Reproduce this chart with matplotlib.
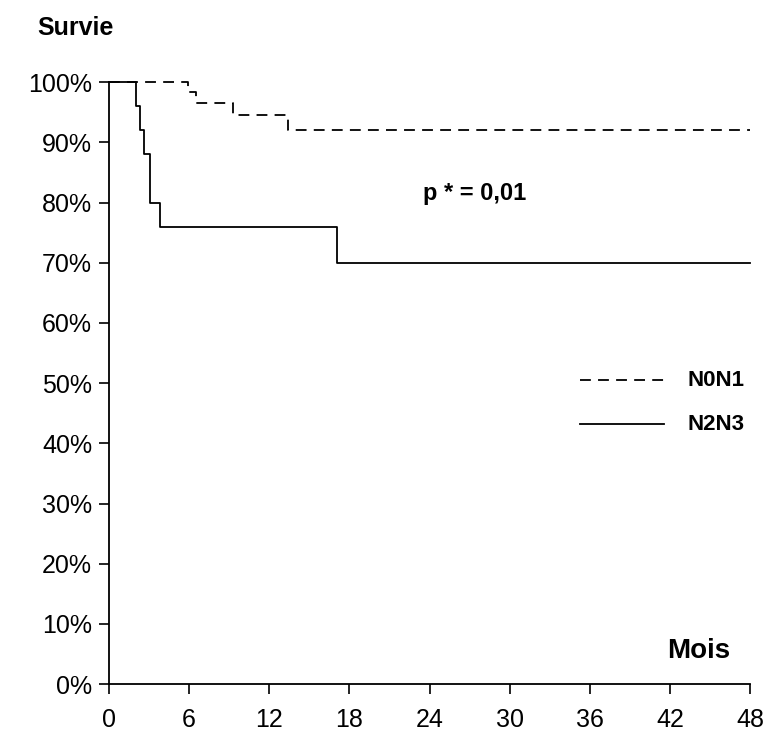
import matplotlib as mpl
import matplotlib.pyplot as plt
from matplotlib.ticker import FuncFormatter

mpl.use('Agg')
plt.rcParams['font.family'] = ['Liberation Sans', 'DejaVu Sans']

# Kaplan-Meier steps (months, survival)
n0n1_t = [0, 5.9, 6.5, 9.3, 13.4, 48]
n0n1_s = [1.0, 0.983, 0.966, 0.945, 0.92, 0.92]
n2n3_t = [0, 2.0, 2.3, 2.6, 3.1, 3.8, 17.1, 48]
n2n3_s = [1.0, 0.96, 0.92, 0.88, 0.80, 0.76, 0.70, 0.70]

xticks = [0, 6, 12, 18, 24, 30, 36, 42, 48]
yticks = [0, 0.1, 0.2, 0.3, 0.4, 0.5, 0.6, 0.7, 0.8, 0.9, 1.0]

fig = plt.figure(figsize=(7.67, 7.34), dpi=100)
ax = fig.add_axes([0.142, 0.068, 0.836, 0.820])

ax.step(n0n1_t, n0n1_s, where='post', color='black', lw=1.3,
        linestyle=(0, (6, 4)), clip_on=False)
ax.step(n2n3_t, n2n3_s, where='post', color='black', lw=1.3, clip_on=False)

ax.set_xlim(0, 48)
ax.set_ylim(0, 1)
ax.set_xticks(xticks)
ax.set_yticks(yticks)
ax.yaxis.set_major_formatter(FuncFormatter(lambda v, p: '%d%%' % round(v * 100)))
ax.tick_params(direction='out', length=7, width=1.2, labelsize=18, pad=5, colors='black')
ax.tick_params(axis='x', pad=10)
for s in ['top', 'right']:
    ax.spines[s].set_visible(False)
for s in ['left', 'bottom']:
    ax.spines[s].set_linewidth(1.3)

# legend drawn by hand in axes coords
ax.plot([0.735, 0.865], [0.505, 0.505], transform=ax.transAxes, color='black',
        lw=1.3, linestyle=(0, (6, 4)))
ax.plot([0.735, 0.865], [0.432, 0.432], transform=ax.transAxes, color='black', lw=1.3)
ax.text(0.902, 0.505, 'N0N1', transform=ax.transAxes, fontsize=16, fontweight='bold', va='center')
ax.text(0.902, 0.432, 'N2N3', transform=ax.transAxes, fontsize=16, fontweight='bold', va='center')

ax.text(0.49, 0.815, 'p * = 0,01', transform=ax.transAxes, fontsize=17, fontweight='bold', va='center')
fig.text(0.048, 0.962, 'Survie', fontsize=18, fontweight='bold', va='center')
ax.text(0.92, 0.055, 'Mois', transform=ax.transAxes, fontsize=20, fontweight='bold',
        va='center', ha='center')

fig.savefig('out.png', dpi=100)
